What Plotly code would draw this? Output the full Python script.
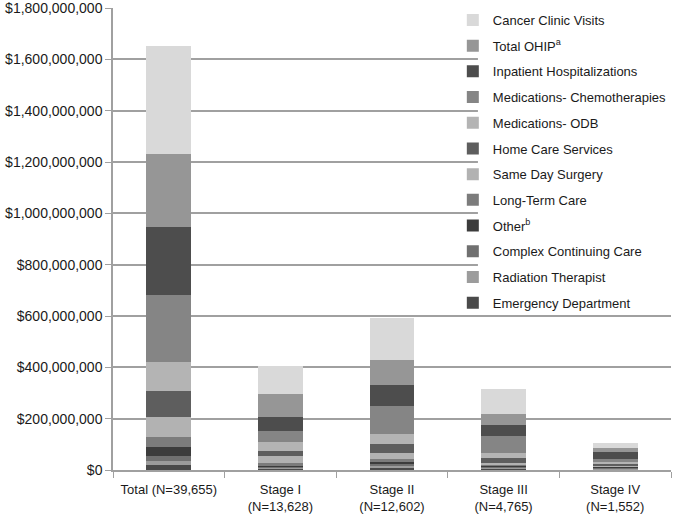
import plotly.graph_objects as go

categories = ["Total (N=39,655)", "Stage I<br>(N=13,628)", "Stage II<br>(N=12,602)",
              "Stage III<br>(N=4,765)", "Stage IV<br>(N=1,552)"]

# values in millions of dollars, bottom of stack first
emergency_department = [18, 4, 11, 5, 3]
radiation_therapist = [16, 4, 7, 4, 3]
complex_continuing_care = [22, 5, 7, 3, 2]
other = [32, 6, 9, 4, 5]
long_term_care = [40, 7, 7, 3, 2]
same_day_surgery = [77, 30, 26, 9, 2]
home_care_services = [102, 18, 36, 20, 9]
medications_odb = [113, 34, 38, 19, 4]
medications_chemo = [263, 45, 109, 65, 11]
inpatient_hospitalizations = [262, 55, 80, 44, 30]
total_ohip = [288, 87, 99, 44, 13]
cancer_clinic_visits = [420, 110, 163, 94, 21]

series = [
    ("Emergency Department", emergency_department, "#4a4a4a"),
    ("Radiation Therapist", radiation_therapist, "#9c9c9c"),
    ("Complex Continuing Care", complex_continuing_care, "#707070"),
    ("Other<sup>b</sup>", other, "#3c3c3c"),
    ("Long-Term Care", long_term_care, "#7c7c7c"),
    ("Same Day Surgery", same_day_surgery, "#b2b2b2"),
    ("Home Care Services", home_care_services, "#5e5e5e"),
    ("Medications- ODB", medications_odb, "#b4b4b4"),
    ("Medications- Chemotherapies", medications_chemo, "#858585"),
    ("Inpatient Hospitalizations", inpatient_hospitalizations, "#4d4d4d"),
    ("Total OHIP<sup>a</sup>", total_ohip, "#969696"),
    ("Cancer Clinic Visits", cancer_clinic_visits, "#d9d9d9"),
]

fig = go.Figure()
n = len(series)
for i, (name, vals, color) in enumerate(series):
    fig.add_trace(go.Bar(
        x=categories, y=[v * 1e6 for v in vals], name=name,
        marker=dict(color=color, line=dict(width=0)),
        legendgroup=f"g{i}",
        legendrank=100 + (n - i),
    ))

font = "Liberation Sans, Arial, sans-serif"
fig.update_layout(
    barmode="stack",
    bargap=0.6,
    width=678, height=515,
    margin=dict(l=113, r=7, t=8, b=45, autoexpand=False),
    paper_bgcolor="white", plot_bgcolor="white",
    font=dict(family=font, size=13, color="#1a1a1a"),
    legend=dict(
        traceorder="grouped",
        x=0.609, xanchor="left", y=1.0065, yanchor="top",
        bgcolor="rgba(0,0,0,0)", borderwidth=0,
        font=dict(family=font, size=13, color="#1a1a1a"),
        tracegroupgap=5.8,
        itemwidth=30,
        maxheight=1.0,
    ),
    showlegend=True,
    shapes=[dict(
        type="rect", xref="paper", yref="paper",
        x0=0.654, x1=1.0, y0=0.342, y1=0.9957,
        fillcolor="white", line=dict(width=0), layer="above",
    )],
)
fig.update_yaxes(
    range=[0, 1.8e9], tickmode="linear", tick0=0, dtick=2e8,
    tickformat="$,.0f", ticklabeloverflow="allow",
    tickfont=dict(size=14),
    showgrid=True, gridcolor="#a0a0a0", gridwidth=1.5,
    showline=True, linecolor="#a0a0a0", linewidth=1.5,
    ticks="outside", ticklen=6, tickcolor="#a0a0a0",
    zeroline=False, automargin=False,
)
fig.update_xaxes(
    showline=True, linecolor="#a0a0a0", linewidth=1.5,
    ticks="outside", tickson="boundaries", ticklen=6, tickcolor="#a0a0a0",
    showgrid=False, tickangle=0, automargin=False,
    ticklabelstandoff=7,
    tickfont=dict(size=13),
)

fig.write_html("out.html", config={"displayModeBar": False},
               post_script="document.body.style.margin='0';")
